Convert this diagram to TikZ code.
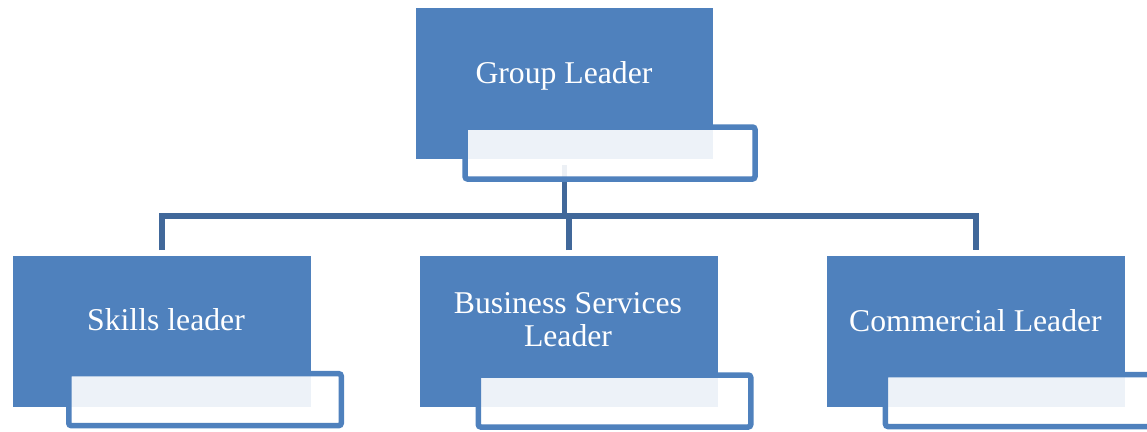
\documentclass[tikz,border=0pt]{standalone}
\usepackage{fontspec}
\setmainfont{Liberation Serif}
\usetikzlibrary{backgrounds}
\definecolor{boxblue}{HTML}{4F81BD}
\definecolor{connblue}{HTML}{41689A}
\begin{document}
\begin{tikzpicture}[x=1pt,y=-1pt,
  bluebox/.style={fill=boxblue, draw=none, inner sep=0pt, outer sep=0pt, minimum width=297.5pt, minimum height=151.3pt},
  tagbox/.style={draw=boxblue, line width=5.5pt, fill=white, fill opacity=0.9, draw opacity=1, rounded corners=2.5pt, inner sep=0pt, outer sep=0pt, minimum height=52pt},
  conn/.style={draw=connblue, line width=5.5pt, line join=miter},
  lbl/.style={text=white, font=\fontsize{31.7}{33.7}\selectfont, anchor=base, inner sep=0pt, align=center}]
\useasboundingbox (0,0) rectangle (1147,431);
\clip (0,0) rectangle (1147,431);
% top
\node[bluebox] (gl) at (564.5,83.5) {};
\node[tagbox, minimum width=290pt] (glt) at (610,153) {};
\node[lbl] (gltx) at (564,83) {Group Leader};
% bottom
\node[bluebox] (sk) at (162,331.35) {};
\node[tagbox, minimum width=272.5pt] (skt) at (205,399.65) {};
\node[lbl] (sktx) at (166,330.7) {Skills leader};
\node[bluebox] (bs) at (568.85,331.35) {};
\node[tagbox, minimum width=272.5pt] (bst) at (614.5,401) {};
\node[lbl] (bstx) at (568,346.7) {Business Services\\Leader};
\node[bluebox] (cl) at (976,331.35) {};
\node[tagbox, minimum width=272.5pt] (clt) at (1021.7,400.5) {};
\node[lbl] (cltx) at (975.4,331) {Commercial Leader};
% connectors
\begin{scope}[on background layer]
\draw[conn] ([yshift=5.7pt]sk.north) |- ([yshift=39.7pt]cl.north) -- ([yshift=5.7pt]cl.north);
\draw[conn] ([yshift=-6pt]gl.south) -- ([yshift=-57pt]gl.south);
\draw[conn] ([yshift=5.7pt]bs.north) -- ([yshift=39.7pt]bs.north);
\end{scope}
\end{tikzpicture}
\end{document}
